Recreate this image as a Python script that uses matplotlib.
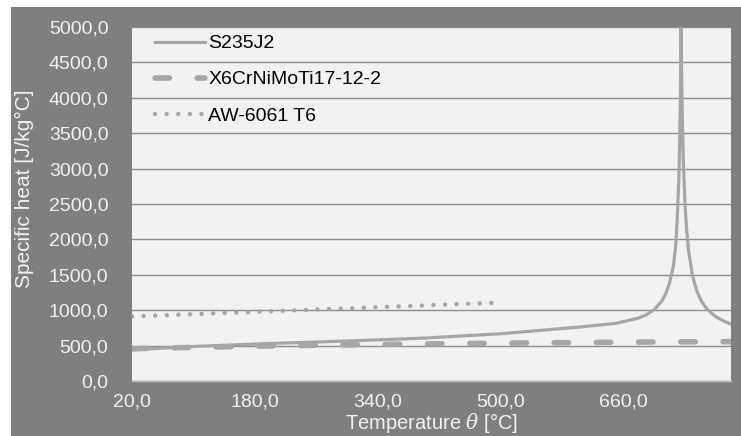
import matplotlib
matplotlib.use('Agg')
import matplotlib.pyplot as plt
from matplotlib.patches import Rectangle
from matplotlib.ticker import FuncFormatter, MultipleLocator

plt.rcParams['font.family'] = ['Liberation Sans', 'DejaVu Sans']
plt.rcParams['mathtext.fontset'] = 'dejavuserif'

# === DATA ===
t_s235 = [20, 100, 200, 300, 400, 500, 600, 650, 680, 690, 700, 710, 715, 720, 725,
          728, 730, 732, 733, 734, 735, 736, 737, 738, 740, 742, 745, 750, 755, 760,
          765, 770, 780, 790, 800]
c_s235 = [440, 488, 530, 565, 606, 667, 760, 814, 890, 937, 1008, 1130, 1231, 1388, 1625,
          1906, 2291, 2835, 3267, 3916, 5000, 4109, 3515, 3091, 2525, 2165, 1818, 1483, 1287, 1159,
          1068, 1001, 909, 850, 803]

t_x6 = [20, 100, 200, 300, 400, 500, 600, 700, 800]
c_x6 = [456, 475, 495, 511, 524, 534, 543, 551, 556]

t_aw = [20, 100, 200, 300, 400, 490]
c_aw = [911, 944, 985, 1026, 1067, 1104]

LINE_COL = '#a6a6a6'
BG = '#7f7f7f'
TXT = '#f2f2f2'
FS = 14

fig = plt.figure(figsize=(7.41, 4.36), dpi=100)
fig.patch.set_facecolor('white')
fig.patches.append(Rectangle((11 / 741, 0), 1, 1 - 7 / 436, transform=fig.transFigure,
                             facecolor=BG, edgecolor='none', zorder=-10))

ax = fig.add_axes([132 / 741, 1 - 381 / 436, (731 - 132) / 741, (381 - 27) / 436])
ax.set_facecolor('#f2f2f2')

ax.plot(t_s235, c_s235, '-', color=LINE_COL, lw=2.3, label='S235J2', zorder=3)
ax.plot(t_x6, c_x6, color=LINE_COL, lw=4, linestyle=(0, (2.6, 5)),
        dash_capstyle='round', label='X6CrNiMoTi17-12-2', zorder=3)
ax.plot(t_aw, c_aw, color=LINE_COL, lw=3.2, linestyle=(0, (0.01, 2.6)),
        dash_capstyle='round', label='AW-6061 T6', zorder=3)

ax.set_xlim(20, 800)
ax.set_ylim(0, 5000)
ax.set_xticks([20, 180, 340, 500, 660])
ax.yaxis.set_major_locator(MultipleLocator(500))
fmt = FuncFormatter(lambda v, p: f'{v:.1f}'.replace('.', ','))
ax.xaxis.set_major_formatter(fmt)
ax.yaxis.set_major_formatter(fmt)

ax.grid(axis='y', color='#8c8c8c', lw=1.0)
ax.set_axisbelow(True)
for s in ['top', 'right', 'left']:
    ax.spines[s].set_visible(False)
ax.spines['bottom'].set_color('#bfbfbf')
ax.spines['bottom'].set_linewidth(1.0)

ax.tick_params(axis='y', length=0, pad=17, labelsize=FS, labelcolor=TXT)
ax.tick_params(axis='x', length=0, pad=9, labelsize=FS, labelcolor=TXT)

ax.set_ylabel('Specific heat [J/kg°C]', color=TXT, fontsize=15, va='center')
ax.yaxis.set_label_coords(-0.179, 0.542)
ax.set_xlabel(r'Temperature $\theta$ [°C]', color=TXT, fontsize=14.5, va='center')
ax.xaxis.set_label_coords(0.5, -0.118)

leg = ax.legend(loc='upper left', frameon=False, fontsize=FS, handlelength=2.6,
                handletextpad=0.15, labelspacing=0.95, borderaxespad=0.0,
                bbox_to_anchor=(0.025, 1.0))
for t in leg.get_texts():
    t.set_color('black')

fig.savefig('out.png', dpi=100, facecolor=fig.get_facecolor())
